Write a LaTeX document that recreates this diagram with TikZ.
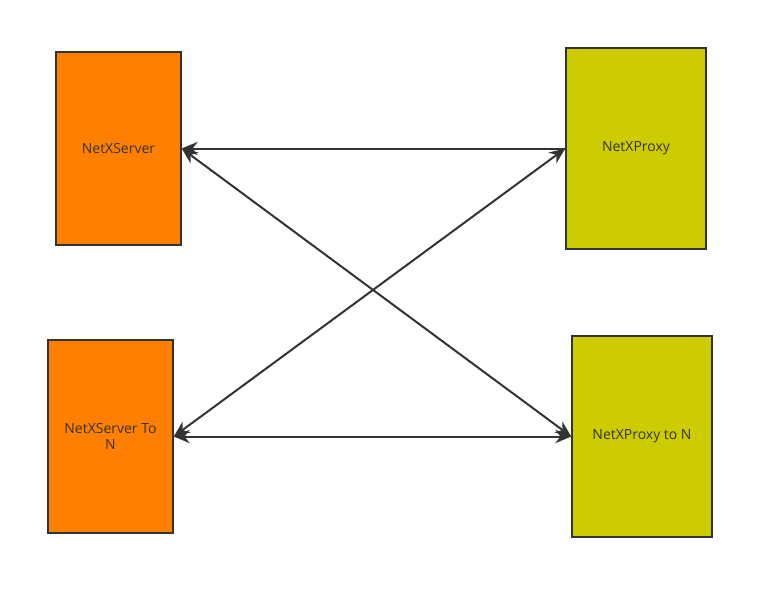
\documentclass[tikz,border=0pt]{standalone}
\usepackage{fontspec}
\setmainfont{Open Sans}
\usetikzlibrary{arrows.meta}
\definecolor{orangefill}{HTML}{FF7F00}
\definecolor{yellowfill}{HTML}{CCCC00}
\definecolor{linecol}{HTML}{333333}
\begin{document}
\begin{tikzpicture}[x=0.75pt,y=-0.75pt,
  box/.style={draw=linecol,line width=1.1pt,inner sep=0pt,text=linecol,align=center,
    font=\fontsize{10.5}{12.5}\selectfont},
  conn/.style={draw=linecol,line width=1.5pt,-{Stealth[length=12pt,width=10pt]}},
  bconn/.style={draw=linecol,line width=1.5pt,{Stealth[length=12pt,width=10pt]}-{Stealth[length=12pt,width=10pt]}}]
\useasboundingbox (0,0) rectangle (775,600);
\node[box,fill=orangefill,minimum width=125*0.75pt,minimum height=193*0.75pt] (srv) at (118.5,148.5) {NetXServer};
\node[box,fill=yellowfill,minimum width=140*0.75pt,minimum height=201*0.75pt] (prx) at (636,148.5) {NetXProxy};
\node[box,fill=orangefill,minimum width=125*0.75pt,minimum height=193*0.75pt] (srvn) at (110.5,436.5) {NetXServer To\\N};
\node[box,fill=yellowfill,minimum width=140*0.75pt,minimum height=201*0.75pt] (prxn) at (642,436.5) {NetXProxy to N};
\draw[conn] (prx.west) -- (srv.east);
\draw[bconn] (srv.east) -- (prxn.west);
\draw[bconn] (srvn.east) -- (prx.west);
\draw[bconn] (srvn.east) -- (prxn.west);
\end{tikzpicture}
\end{document}
